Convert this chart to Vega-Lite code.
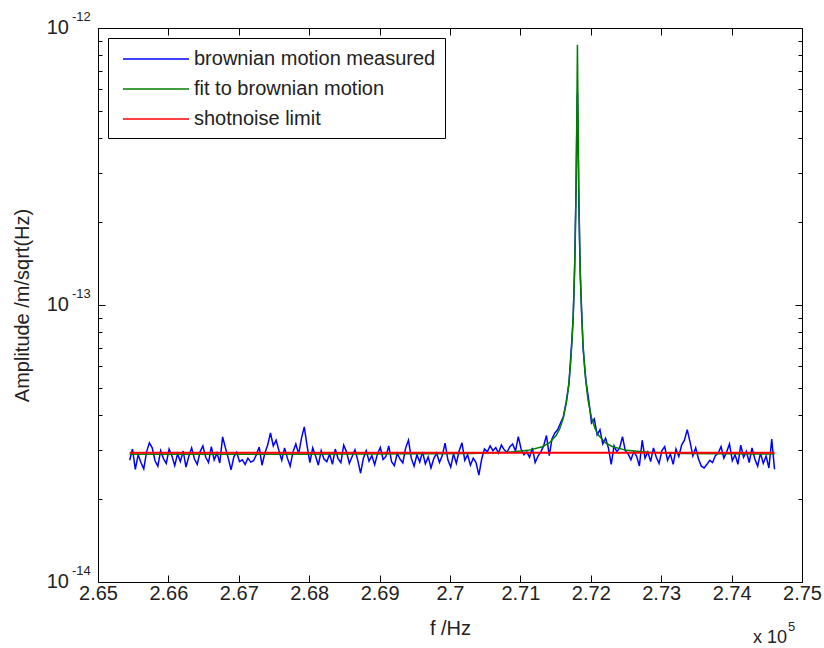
{
  "$schema": "https://vega.github.io/schema/vega-lite/v6.json",
  "width": 704,
  "height": 554,
  "autosize": {"type": "none"},
  "padding": {"left": 98, "top": 28, "right": 22, "bottom": 66},
  "background": "white",
  "config": {
    "view": {"stroke": "black", "strokeWidth": 1},
    "font": "Liberation Sans",
    "axis": {"domain": false, "grid": false, "tickColor": "black", "tickWidth": 1, "labelColor": "#222222", "titleColor": "#222222", "labelFont": "Liberation Sans", "titleFont": "Liberation Sans", "labelFontSize": 20, "titleFontSize": 20, "titleFontWeight": "normal"},
    "text": {"font": "Liberation Sans", "color": "#222222"}
  },
  "datasets": {
    "meas": [
      {"f":265450,"a":2.75e-14},{"f":265490,"a":3.02e-14},{"f":265530,"a":2.55e-14},{"f":265570,"a":2.88e-14},{"f":265610,"a":2.70e-14},
      {"f":265650,"a":2.56e-14},{"f":265690,"a":2.95e-14},{"f":265730,"a":3.18e-14},{"f":265770,"a":3.05e-14},{"f":265810,"a":2.74e-14},
      {"f":265850,"a":2.62e-14},{"f":265890,"a":2.98e-14},{"f":265930,"a":2.79e-14},{"f":265970,"a":2.68e-14},{"f":266010,"a":3.02e-14},
      {"f":266050,"a":2.85e-14},{"f":266090,"a":2.63e-14},{"f":266130,"a":2.90e-14},{"f":266170,"a":2.72e-14},{"f":266210,"a":2.97e-14},
      {"f":266250,"a":2.60e-14},{"f":266290,"a":2.84e-14},{"f":266330,"a":3.05e-14},{"f":266370,"a":2.78e-14},{"f":266410,"a":2.66e-14},
      {"f":266450,"a":2.95e-14},{"f":266490,"a":3.10e-14},{"f":266530,"a":2.82e-14},{"f":266570,"a":2.70e-14},{"f":266610,"a":3.08e-14},
      {"f":266650,"a":2.76e-14},{"f":266690,"a":2.92e-14},{"f":266730,"a":2.69e-14},{"f":266770,"a":3.34e-14},{"f":266810,"a":3.05e-14},
      {"f":266850,"a":2.80e-14},{"f":266890,"a":2.54e-14},{"f":266930,"a":2.83e-14},{"f":266970,"a":2.94e-14},{"f":267010,"a":2.72e-14},
      {"f":267050,"a":2.76e-14},{"f":267090,"a":2.66e-14},{"f":267130,"a":2.80e-14},{"f":267170,"a":2.71e-14},{"f":267210,"a":2.74e-14},
      {"f":267250,"a":2.88e-14},{"f":267290,"a":3.07e-14},{"f":267330,"a":2.64e-14},{"f":267370,"a":2.92e-14},{"f":267410,"a":3.12e-14},
      {"f":267450,"a":3.45e-14},{"f":267490,"a":3.10e-14},{"f":267530,"a":3.25e-14},{"f":267570,"a":2.98e-14},{"f":267610,"a":2.75e-14},
      {"f":267650,"a":3.05e-14},{"f":267690,"a":2.80e-14},{"f":267730,"a":2.62e-14},{"f":267770,"a":2.95e-14},{"f":267810,"a":3.15e-14},
      {"f":267850,"a":2.90e-14},{"f":267890,"a":3.30e-14},{"f":267930,"a":3.63e-14},{"f":267970,"a":3.10e-14},{"f":268010,"a":2.70e-14},
      {"f":268050,"a":3.05e-14},{"f":268090,"a":2.85e-14},{"f":268130,"a":2.64e-14},{"f":268170,"a":2.98e-14},{"f":268210,"a":2.78e-14},
      {"f":268250,"a":2.72e-14},{"f":268290,"a":2.90e-14},{"f":268330,"a":2.66e-14},{"f":268370,"a":3.02e-14},{"f":268410,"a":2.79e-14},
      {"f":268450,"a":2.70e-14},{"f":268490,"a":3.12e-14},{"f":268530,"a":2.95e-14},{"f":268570,"a":2.68e-14},{"f":268610,"a":2.84e-14},
      {"f":268650,"a":3.00e-14},{"f":268690,"a":2.75e-14},{"f":268730,"a":2.47e-14},{"f":268770,"a":2.80e-14},{"f":268810,"a":2.98e-14},
      {"f":268850,"a":2.73e-14},{"f":268890,"a":2.86e-14},{"f":268930,"a":2.65e-14},{"f":268970,"a":2.90e-14},{"f":269010,"a":3.06e-14},
      {"f":269050,"a":2.77e-14},{"f":269090,"a":2.84e-14},{"f":269130,"a":3.10e-14},{"f":269170,"a":2.72e-14},{"f":269210,"a":2.63e-14},
      {"f":269250,"a":2.91e-14},{"f":269290,"a":2.78e-14},{"f":269330,"a":2.69e-14},{"f":269370,"a":3.05e-14},{"f":269410,"a":3.25e-14},
      {"f":269450,"a":2.80e-14},{"f":269490,"a":2.62e-14},{"f":269530,"a":2.88e-14},{"f":269570,"a":2.71e-14},{"f":269610,"a":2.95e-14},
      {"f":269650,"a":2.67e-14},{"f":269690,"a":2.83e-14},{"f":269730,"a":2.58e-14},{"f":269770,"a":2.79e-14},{"f":269810,"a":2.92e-14},
      {"f":269850,"a":2.70e-14},{"f":269890,"a":2.86e-14},{"f":269930,"a":3.17e-14},{"f":269970,"a":2.76e-14},{"f":270010,"a":2.60e-14},
      {"f":270050,"a":2.90e-14},{"f":270090,"a":2.68e-14},{"f":270130,"a":2.97e-14},{"f":270170,"a":3.18e-14},{"f":270210,"a":2.75e-14},
      {"f":270250,"a":2.88e-14},{"f":270290,"a":2.64e-14},{"f":270330,"a":2.80e-14},{"f":270370,"a":2.70e-14},{"f":270410,"a":2.43e-14},
      {"f":270450,"a":2.78e-14},{"f":270490,"a":3.02e-14},{"f":270530,"a":2.95e-14},{"f":270570,"a":3.10e-14},{"f":270610,"a":2.98e-14},
      {"f":270650,"a":3.06e-14},{"f":270690,"a":2.92e-14},{"f":270730,"a":3.12e-14},{"f":270770,"a":3.00e-14},{"f":270810,"a":2.94e-14},
      {"f":270850,"a":3.08e-14},{"f":270890,"a":3.15e-14},{"f":270930,"a":2.97e-14},{"f":270970,"a":3.35e-14},{"f":271010,"a":3.02e-14},
      {"f":271050,"a":2.88e-14},{"f":271090,"a":2.95e-14},{"f":271130,"a":2.82e-14},{"f":271170,"a":3.05e-14},{"f":271210,"a":2.70e-14},
      {"f":271250,"a":2.85e-14},{"f":271290,"a":2.95e-14},{"f":271330,"a":3.10e-14},{"f":271370,"a":3.38e-14},{"f":271410,"a":2.86e-14},
      {"f":271450,"a":3.30e-14},{"f":271490,"a":3.45e-14},{"f":271530,"a":3.55e-14},{"f":271570,"a":3.75e-14},{"f":271610,"a":3.95e-14},
      {"f":271650,"a":4.45e-14},{"f":271690,"a":5.20e-14},{"f":271730,"a":7.40e-14},{"f":271750,"a":9.0e-14},{"f":271770,"a":1.36e-13},
      {"f":271790,"a":2.6e-13},{"f":271800,"a":4.1e-13},{"f":271810,"a":5.8e-13},{"f":271830,"a":2.4e-13},{"f":271850,"a":1.29e-13},
      {"f":271870,"a":9.5e-14},{"f":271890,"a":7.0e-14},{"f":271930,"a":5.35e-14},{"f":271970,"a":4.55e-14},{"f":272010,"a":3.75e-14},
      {"f":272050,"a":3.88e-14},{"f":272090,"a":3.40e-14},{"f":272130,"a":3.55e-14},{"f":272170,"a":3.15e-14},{"f":272210,"a":3.30e-14},
      {"f":272250,"a":3.05e-14},{"f":272290,"a":2.66e-14},{"f":272330,"a":3.10e-14},{"f":272370,"a":2.95e-14},{"f":272410,"a":3.05e-14},
      {"f":272450,"a":3.35e-14},{"f":272490,"a":2.98e-14},{"f":272530,"a":2.90e-14},{"f":272570,"a":2.76e-14},{"f":272610,"a":2.95e-14},
      {"f":272650,"a":2.85e-14},{"f":272690,"a":2.62e-14},{"f":272730,"a":3.25e-14},{"f":272770,"a":2.80e-14},{"f":272810,"a":2.95e-14},
      {"f":272850,"a":2.72e-14},{"f":272890,"a":3.05e-14},{"f":272930,"a":2.82e-14},{"f":272970,"a":2.68e-14},{"f":273010,"a":2.98e-14},
      {"f":273050,"a":3.08e-14},{"f":273090,"a":2.75e-14},{"f":273130,"a":2.90e-14},{"f":273170,"a":2.66e-14},{"f":273210,"a":3.02e-14},
      {"f":273250,"a":2.84e-14},{"f":273290,"a":3.12e-14},{"f":273330,"a":3.25e-14},{"f":273370,"a":3.55e-14},{"f":273410,"a":3.20e-14},
      {"f":273450,"a":2.85e-14},{"f":273490,"a":3.05e-14},{"f":273530,"a":2.78e-14},{"f":273570,"a":2.62e-14},{"f":273610,"a":2.58e-14},
      {"f":273650,"a":2.66e-14},{"f":273690,"a":2.75e-14},{"f":273730,"a":2.70e-14},{"f":273770,"a":2.86e-14},{"f":273810,"a":2.92e-14},
      {"f":273850,"a":3.08e-14},{"f":273890,"a":2.80e-14},{"f":273930,"a":2.95e-14},{"f":273970,"a":3.15e-14},{"f":274010,"a":2.74e-14},
      {"f":274050,"a":2.88e-14},{"f":274090,"a":2.66e-14},{"f":274130,"a":3.12e-14},{"f":274170,"a":2.82e-14},{"f":274210,"a":2.96e-14},
      {"f":274250,"a":2.70e-14},{"f":274290,"a":3.05e-14},{"f":274330,"a":2.78e-14},{"f":274370,"a":2.62e-14},{"f":274410,"a":2.92e-14},
      {"f":274450,"a":2.68e-14},{"f":274490,"a":2.85e-14},{"f":274530,"a":2.58e-14},{"f":274570,"a":3.28e-14},{"f":274610,"a":2.55e-14}
    ],
    "fit": [
      {"f":265450,"a":2.891e-14},{"f":267810,"a":2.893e-14},{"f":268810,"a":2.895e-14},{"f":269810,"a":2.902e-14},{"f":270310,"a":2.911e-14},
      {"f":270810,"a":2.938e-14},{"f":271110,"a":2.987e-14},{"f":271310,"a":3.078e-14},{"f":271410,"a":3.178e-14},{"f":271510,"a":3.386e-14},
      {"f":271560,"a":3.582e-14},{"f":271610,"a":3.917e-14},{"f":271660,"a":4.558e-14},{"f":271690,"a":5.268e-14},{"f":271710,"a":6.021e-14},
      {"f":271730,"a":7.201e-14},{"f":271750,"a":9.239e-14},{"f":271760,"a":1.090e-13},{"f":271770,"a":1.340e-13},{"f":271780,"a":1.754e-13},
      {"f":271790,"a":2.551e-13},{"f":271800,"a":4.547e-13},{"f":271810,"a":8.7e-13},{"f":271820,"a":4.547e-13},{"f":271830,"a":2.551e-13},
      {"f":271840,"a":1.754e-13},{"f":271850,"a":1.340e-13},{"f":271860,"a":1.090e-13},{"f":271870,"a":9.239e-14},{"f":271890,"a":7.201e-14},
      {"f":271910,"a":6.021e-14},{"f":271930,"a":5.268e-14},{"f":271960,"a":4.558e-14},{"f":272010,"a":3.917e-14},{"f":272060,"a":3.582e-14},
      {"f":272110,"a":3.386e-14},{"f":272210,"a":3.178e-14},{"f":272310,"a":3.078e-14},{"f":272510,"a":2.987e-14},{"f":272810,"a":2.938e-14},
      {"f":273310,"a":2.911e-14},{"f":273810,"a":2.902e-14},{"f":274610,"a":2.896e-14}
    ],
    "shot": [
      {"f":265450,"a":2.93e-14},{"f":274610,"a":2.93e-14}
    ],
    "ylab": [
      {"v":1e-14,"e":"-14"},{"v":1e-13,"e":"-13"},{"v":1e-12,"e":"-12"}
    ]
  },
  "layer": [
    {
      "data": {"name": "meas"},
      "mark": {"type": "line", "strokeWidth": 1.5},
      "encoding": {
        "x": {"field": "f", "type": "quantitative",
          "scale": {"domain": [265000, 275000], "nice": false, "zero": false},
          "axis": {"orient": "bottom", "values": [265000,266000,267000,268000,269000,270000,271000,272000,273000,274000,275000],
            "labelExpr": "format(datum.value/100000, '.3~g')", "tickSize": -7, "labelPadding": 8, "labelFlush": false,
            "title": "f /Hz", "titleX": 352, "titleY": 46, "titleBaseline": "middle"}},
        "y": {"field": "a", "type": "quantitative",
          "scale": {"type": "log", "domain": [1e-14, 1e-12], "nice": false},
          "axis": {"orient": "left", "values": [1e-14,2e-14,3e-14,4e-14,5e-14,6e-14,7e-14,8e-14,9e-14,1e-13,2e-13,3e-13,4e-13,5e-13,6e-13,7e-13,8e-13,9e-13,1e-12],
            "labels": false,
            "tickSize": {"condition": {"test": "abs(log(datum.value)/LN10 - round(log(datum.value)/LN10)) < 0.001", "value": -7}, "value": -4},
            "title": "Amplitude /m/sqrt(Hz)", "titleX": -76, "titleY": 277, "titleAngle": -90, "titleBaseline": "middle", "titleAlign": "center"}},
        "color": {"datum": "brownian motion measured", "type": "nominal",
          "scale": {"domain": ["brownian motion measured", "fit to brownian motion", "shotnoise limit"], "range": ["#0000ff", "#008000", "#ff0000"]},
          "legend": {"title": null, "orient": "top-left", "offset": 10, "padding": 9, "strokeColor": "black", "fillColor": "white", "cornerRadius": 0,
            "labelFontSize": 20, "labelFont": "Liberation Sans", "labelColor": "#222222", "labelLimit": 400,
            "symbolType": "M-3,0H3", "symbolSize": 484, "symbolStrokeWidth": 1.5, "symbolOffset": 27, "labelOffset": 26, "rowPadding": 8}}
      }
    },
    {
      "data": {"name": "fit"},
      "mark": {"type": "line", "strokeWidth": 1.5},
      "encoding": {
        "x": {"field": "f", "type": "quantitative",
          "axis": {"orient": "top", "values": [265000,266000,267000,268000,269000,270000,271000,272000,273000,274000,275000],
            "labels": false, "tickSize": -7, "title": null}},
        "y": {"field": "a", "type": "quantitative",
          "axis": {"orient": "right", "values": [1e-14,2e-14,3e-14,4e-14,5e-14,6e-14,7e-14,8e-14,9e-14,1e-13,2e-13,3e-13,4e-13,5e-13,6e-13,7e-13,8e-13,9e-13,1e-12],
            "labels": false,
            "tickSize": {"condition": {"test": "abs(log(datum.value)/LN10 - round(log(datum.value)/LN10)) < 0.001", "value": -7}, "value": -4},
            "title": null}},
        "color": {"datum": "fit to brownian motion", "type": "nominal"}
      }
    },
    {
      "data": {"name": "shot"},
      "mark": {"type": "line", "strokeWidth": 2},
      "encoding": {
        "x": {"field": "f", "type": "quantitative", "axis": null},
        "y": {"field": "a", "type": "quantitative", "axis": null},
        "color": {"datum": "shotnoise limit", "type": "nominal"}
      }
    },
    {
      "data": {"name": "ylab"},
      "mark": {"type": "text", "text": "10", "align": "right", "baseline": "middle", "dx": -29, "fontSize": 20},
      "encoding": {
        "x": {"datum": 265000, "type": "quantitative", "axis": null},
        "y": {"field": "v", "type": "quantitative", "axis": null}
      }
    },
    {
      "data": {"name": "ylab"},
      "mark": {"type": "text", "align": "left", "baseline": "middle", "dx": -26, "dy": -11, "fontSize": 13},
      "encoding": {
        "x": {"datum": 265000, "type": "quantitative", "axis": null},
        "y": {"field": "v", "type": "quantitative", "axis": null},
        "text": {"field": "e"}
      }
    },
    {
      "data": {"values": [{"t": "x 10", "s": "5"}]},
      "mark": {"type": "text", "align": "right", "baseline": "middle", "dx": -15, "dy": 56, "fontSize": 18},
      "encoding": {
        "x": {"datum": 275000, "type": "quantitative", "axis": null},
        "y": {"datum": 1e-14, "type": "quantitative", "axis": null},
        "text": {"field": "t"}
      }
    },
    {
      "data": {"values": [{"t": "x 10", "s": "5"}]},
      "mark": {"type": "text", "align": "left", "baseline": "middle", "dx": -14, "dy": 45, "fontSize": 13},
      "encoding": {
        "x": {"datum": 275000, "type": "quantitative", "axis": null},
        "y": {"datum": 1e-14, "type": "quantitative", "axis": null},
        "text": {"field": "s"}
      }
    }
  ],
  "resolve": {"axis": {"x": "independent", "y": "independent"}}
}
